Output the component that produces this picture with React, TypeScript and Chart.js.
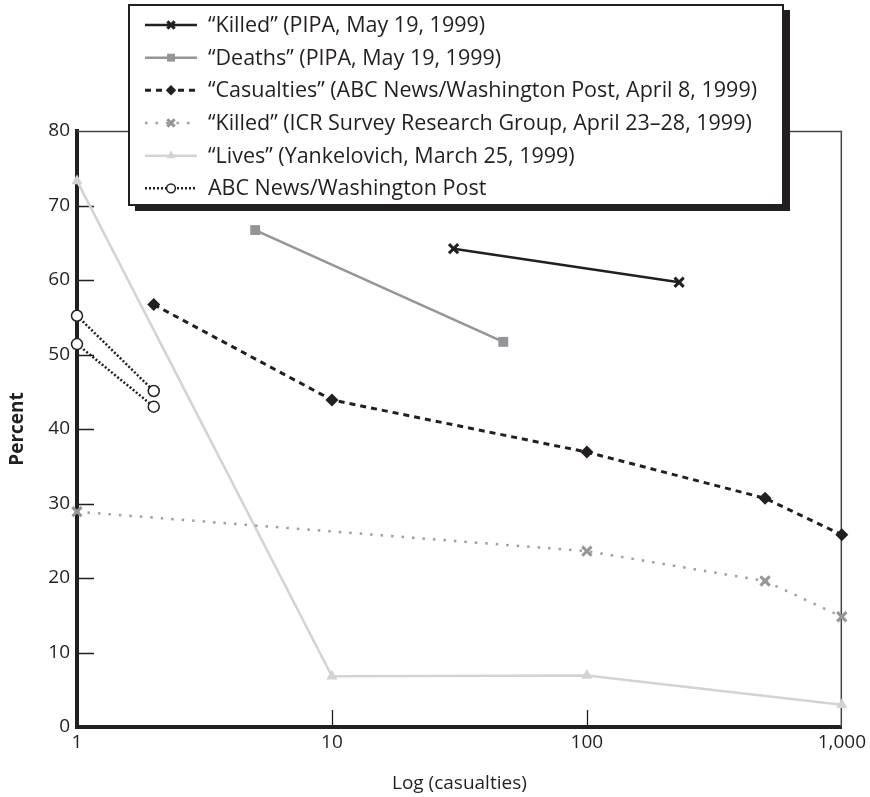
import React, { useEffect, useRef } from "react";
import { Chart, registerables } from "chart.js";
import { drawPoint } from "chart.js/helpers";

Chart.register(...registerables);

// ---- data ----
const seriesLabels = [
  "\u201CKilled\u201D (PIPA, May 19, 1999)",
  "\u201CDeaths\u201D (PIPA, May 19, 1999)",
  "\u201CCasualties\u201D (ABC News/Washington Post, April 8, 1999)",
  "\u201CKilled\u201D (ICR Survey Research Group, April 23\u201328, 1999)",
  "\u201CLives\u201D (Yankelovich, March 25, 1999)",
  "ABC News/Washington Post",
];

const killedPipaX = [30, 230];
const killedPipaY = [64.2, 59.7];

const deathsPipaX = [5, 47];
const deathsPipaY = [66.7, 51.7];

const casualtiesX = [2, 10, 100, 500, 1000];
const casualtiesY = [56.7, 43.9, 36.9, 30.7, 25.8];

const icrX = [1, 100, 500, 1000];
const icrY = [28.9, 23.6, 19.6, 14.8];

const livesX = [1, 10, 100, 1000];
const livesY = [73.3, 6.8, 6.9, 3.0];

// two separate pairs, broken by a gap
const abcX = [1, 2, 1.5, 1, 2];
const abcY: (number | null)[] = [55.2, 45.1, null, 51.4, 43.0];

const xTickValues = [1, 10, 100, 1000];
const xTickLabels = ["1", "10", "100", "1,000"];
const yTickValues = [0, 10, 20, 30, 40, 50, 60, 70, 80];

const xTitle = "Log (casualties)";
const yTitle = "Percent";

const INK = "#231f20";
const FONT = "'Open Sans', sans-serif";

const pts = (xs: number[], ys: (number | null)[]) =>
  xs.map((x, i) => ({ x, y: ys[i] }));

const frameTicksPlugin = {
  id: "frameTicks",
  beforeDatasetsDraw(chart: any) {
    const { ctx, chartArea: a, scales } = chart;
    ctx.save();
    ctx.strokeStyle = "#444";
    ctx.lineWidth = 1.5;
    ctx.beginPath();
    ctx.moveTo(a.left, a.top + 0.5);
    ctx.lineTo(a.right - 0.5, a.top + 0.5);
    ctx.lineTo(a.right - 0.5, a.bottom);
    ctx.stroke();
    ctx.strokeStyle = INK;
    ctx.lineWidth = 1.3;
    ctx.beginPath();
    xTickValues.slice(1, -1).forEach((v) => {
      const px = Math.round(scales.x.getPixelForValue(v)) + 0.5;
      ctx.moveTo(px, a.bottom);
      ctx.lineTo(px, a.bottom - 17);
    });
    yTickValues.slice(1, -1).forEach((v) => {
      const py = Math.round(scales.y.getPixelForValue(v)) + 0.5;
      ctx.moveTo(a.left, py);
      ctx.lineTo(a.left + 17, py);
    });
    ctx.stroke();
    ctx.restore();
  },
};

const boxLegendPlugin = {
  id: "boxLegend",
  afterDraw(chart: any) {
    const ctx = chart.ctx;
    const bx = 129, by = 5, bw = 654, bh = 200;
    ctx.save();
    ctx.fillStyle = INK;
    ctx.fillRect(bx + 6, by + 5, bw + 1, bh + 1);
    ctx.fillStyle = "#fff";
    ctx.fillRect(bx, by, bw, bh);
    ctx.lineWidth = 2;
    ctx.strokeStyle = INK;
    ctx.strokeRect(bx, by, bw, bh);
    chart.data.datasets.forEach((ds: any, i: number) => {
      const y = by + 20 + i * 32.66;
      ctx.save();
      ctx.setLineDash(ds.borderDash || []);
      ctx.lineWidth = ds.borderWidth;
      ctx.strokeStyle = ds.borderColor;
      ctx.beginPath();
      ctx.moveTo(145, y);
      ctx.lineTo(197, y);
      ctx.stroke();
      ctx.setLineDash([]);
      ctx.fillStyle = ds.pointBackgroundColor;
      ctx.strokeStyle = ds.pointBorderColor;
      ctx.lineWidth = ds.pointBorderWidth;
      drawPoint(
        ctx,
        {
          pointStyle: ds.pointStyle,
          radius: ds.pointRadius * 0.8,
          borderWidth: ds.pointBorderWidth,
          rotation: 0,
        } as any,
        171,
        y
      );
      ctx.restore();
      ctx.fillStyle = INK;
      ctx.font = `21.5px ${FONT}`;
      ctx.textBaseline = "middle";
      ctx.textAlign = "left";
      ctx.fillText(ds.label, 208, y + 1);
    });
    ctx.restore();
  },
};

export default function App() {
  const ref = useRef<HTMLCanvasElement>(null);

  useEffect(() => {
    if (!ref.current) return;
    Chart.defaults.font.family = FONT;
    Chart.defaults.color = INK;
    const common = { clip: false as any, spanGaps: false };
    const chart = new Chart(ref.current, {
      type: "line",
      data: {
        datasets: [
          {
            ...common,
            label: seriesLabels[0],
            data: pts(killedPipaX, killedPipaY),
            borderColor: INK,
            borderWidth: 2.5,
            pointStyle: "crossRot",
            pointRadius: 6.5,
            pointBorderWidth: 3,
            pointBorderColor: INK,
            pointBackgroundColor: INK,
          },
          {
            ...common,
            label: seriesLabels[1],
            data: pts(deathsPipaX, deathsPipaY),
            borderColor: "#939598",
            borderWidth: 2.5,
            pointStyle: "rect",
            pointRadius: 7,
            pointBorderWidth: 0,
            pointBorderColor: "#939598",
            pointBackgroundColor: "#939598",
          },
          {
            ...common,
            label: seriesLabels[2],
            data: pts(casualtiesX, casualtiesY),
            borderColor: INK,
            borderWidth: 3,
            borderDash: [6, 5],
            pointStyle: "rectRot",
            pointRadius: 6.5,
            pointBorderWidth: 0,
            pointBorderColor: INK,
            pointBackgroundColor: INK,
          },
          {
            ...common,
            label: seriesLabels[3],
            data: pts(icrX, icrY),
            borderColor: "#9d9fa2",
            borderWidth: 2.5,
            borderDash: [2.5, 8],
            pointStyle: "crossRot",
            pointRadius: 6.5,
            pointBorderWidth: 3,
            pointBorderColor: "#939598",
            pointBackgroundColor: "#939598",
          },
          {
            ...common,
            label: seriesLabels[4],
            data: pts(livesX, livesY),
            borderColor: "#d1d3d4",
            borderWidth: 2.5,
            pointStyle: "triangle",
            pointRadius: 6.5,
            pointBorderWidth: 0,
            pointBorderColor: "#d1d3d4",
            pointBackgroundColor: "#d1d3d4",
          },
          {
            ...common,
            label: seriesLabels[5],
            data: pts(abcX, abcY),
            borderColor: INK,
            borderWidth: 2.5,
            borderDash: [2, 2],
            pointStyle: "circle",
            pointRadius: 5.5,
            pointBorderWidth: 1.5,
            pointBorderColor: INK,
            pointBackgroundColor: "#fff",
          },
        ] as any,
      },
      options: {
        animation: false,
        responsive: false,
        events: [],
        layout: { padding: { left: 0, top: 131, right: 28, bottom: 0 } },
        plugins: {
          legend: { display: false },
          tooltip: { enabled: false },
        },
        scales: {
          x: {
            type: "logarithmic",
            min: 1,
            max: 1000,
            afterFit: (s: any) => {
              s.height = 70;
            },
            afterBuildTicks: (s: any) => {
              s.ticks = xTickValues.map((v) => ({ value: v }));
            },
            ticks: {
              autoSkip: false,
              maxRotation: 0,
              padding: 4,
              color: INK,
              font: { size: 19, family: FONT },
              callback: (v: any) => {
                const i = xTickValues.indexOf(Number(v));
                return i >= 0 ? xTickLabels[i] : "";
              },
            },
            grid: { display: true, drawOnChartArea: false, drawTicks: false },
            border: { display: true, color: INK, width: 4 },
            title: {
              display: true,
              text: xTitle,
              color: INK,
              font: { size: 19, family: FONT },
              padding: { top: 0, bottom: 2 },
            },
          },
          y: {
            type: "linear",
            min: 0,
            max: 80,
            afterFit: (s: any) => {
              s.width = 77;
            },
            afterBuildTicks: (s: any) => {
              s.ticks = yTickValues.map((v) => ({ value: v }));
            },
            ticks: {
              padding: 7,
              color: INK,
              font: { size: 19, family: FONT },
            },
            grid: { display: true, drawOnChartArea: false, drawTicks: false },
            border: { display: true, color: INK, width: 4 },
            title: {
              display: true,
              text: yTitle,
              color: INK,
              font: { size: 19, weight: "bold", family: FONT },
              padding: { top: 6, bottom: 0 },
            },
          },
        },
      } as any,
      plugins: [frameTicksPlugin, boxLegendPlugin],
    });
    return () => chart.destroy();
  }, []);

  return (
    <div style={{ position: "fixed", left: 0, top: 0, width: 870, height: 797 }}>
      <canvas ref={ref} width={870} height={797} style={{ display: "block" }} />
    </div>
  );
}
